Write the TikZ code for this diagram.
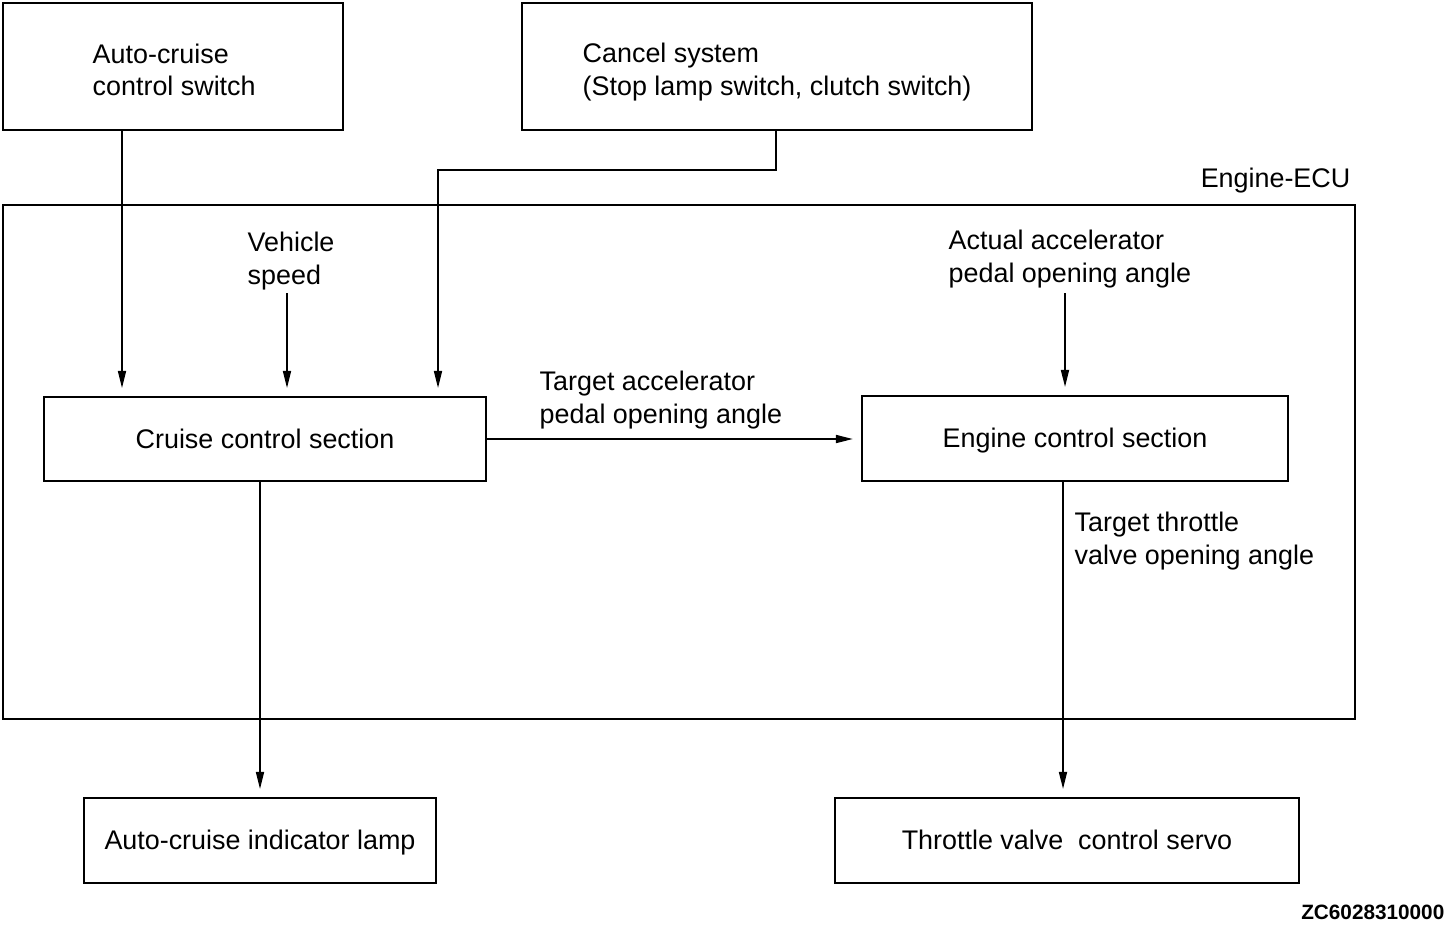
\documentclass[tikz,border=0pt]{standalone}
\usepackage{fontspec}
\setmainfont{Liberation Sans}
\usetikzlibrary{arrows.meta,calc,positioning}

\begin{document}
\begin{tikzpicture}[x=0.01cm, y=-0.01cm,
  box/.style={draw, line width=0.55pt, inner sep=0pt, outer sep=0pt},
  txt/.style={font=\fontsize{7.65}{9.2}\selectfont, align=left, inner sep=0pt},
  sect/.style={box, txt, text height=0.18cm, text depth=0pt},
  arr/.style={line width=0.45pt, -{Triangle[length=0.17cm,width=0.08cm]}, shorten >=0.09cm}]

  \useasboundingbox (0,0) rectangle (1446,924);

  % Input switches
  \node[box, minimum width=3.40cm, minimum height=1.27cm] (switch) at (173,66.5) {};
  \node[txt, anchor=west] (switchtxt) at (92,70) {Auto-cruise\\control switch};
  \node[box, minimum width=5.10cm, minimum height=1.27cm] (cancel) at (777,66.5) {};
  \node[txt, anchor=west] (canceltxt) at (582,72) {Cancel system\\(Stop lamp switch, clutch switch)};

  % Engine-ECU frame
  \node[box, minimum width=13.52cm, minimum height=5.14cm] (ecu) at (679,462) {};
  \node[txt, anchor=east] (ecutxt) at (1351,181) {Engine-ECU};

  % Sections
  \node[sect, minimum width=4.42cm, minimum height=0.84cm] (cruise) at (265,439) {Cruise control section};
  \node[sect, minimum width=4.26cm, minimum height=0.85cm] (engine) at (1075,438.5) {Engine control section};

  % Outputs
  \node[sect, minimum width=3.52cm, minimum height=0.85cm] (lamp) at (260,840.5) {Auto-cruise indicator lamp};
  \node[sect, minimum width=4.64cm, minimum height=0.85cm] (servo) at (1067,840.5) {Throttle valve\ \ control servo};

  % Signal labels
  \node[txt, anchor=west] (speedtxt) at (247,261) {Vehicle\\speed};
  \node[txt, anchor=west] (acceltxt) at (948,259) {Actual accelerator\\pedal opening angle};
  \node[txt, anchor=west] (targettxt) at (539,400) {Target accelerator\\pedal opening angle};
  \node[txt, anchor=west] (throttletxt) at (1074,541) {Target throttle\\valve opening angle};

  % Drawing code
  \node[font=\fontsize{5.9}{7}\selectfont\bfseries, anchor=east, inner sep=0pt] (code) at (1445,912) {ZC6028310000};

  % Connectors into cruise control section
  \coordinate (bend) at (438,170);
  \draw[arr] (switch.south -| 122,0) -- (cruise.north -| 122,0);
  \draw[arr] (287,293) -- (cruise.north -| 287,0);
  \draw[arr] (cancel.south -| 776,0) |- (bend) -- (cruise.north -| bend);

  % Cruise to engine
  \draw[arr] (cruise.east) -- (engine.west |- cruise.east);
  \draw[arr] (1065,293) -- (engine.north -| 1065,0);

  % Outputs
  \draw[arr] (cruise.south -| lamp.north) -- (lamp.north);
  \draw[arr] (engine.south -| 1063,0) -- (servo.north -| 1063,0);

\end{tikzpicture}
\end{document}
